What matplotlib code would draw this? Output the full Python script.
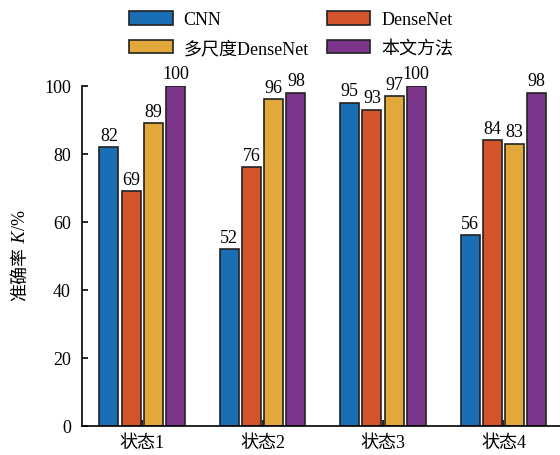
import numpy as np
import matplotlib
matplotlib.use("Agg")
import matplotlib.pyplot as plt

plt.rcParams['font.family'] = ['Liberation Serif', 'Noto Sans CJK SC']
plt.rcParams['font.size'] = 13

states = ['状态1', '状态2', '状态3', '状态4']
methods = ['CNN', 'DenseNet', '多尺度DenseNet', '本文方法']
cnn = [82, 52, 95, 56]
densenet = [69, 76, 93, 84]
ms_densenet = [89, 96, 97, 83]
ours = [100, 98, 100, 98]
colors = ['#1a6fb4', '#d4552b', '#e3a83b', '#7b368c']

fig = plt.figure(figsize=(5.6, 4.56), dpi=100)
ax = fig.add_axes([0.1464, 0.0636, 0.86, 0.746])

x = np.arange(1, len(states) + 1)
width = 0.158
step = 0.184
series = [cnn, densenet, ms_densenet, ours]
handles = []
for i, (vals, name, c) in enumerate(zip(series, methods, colors)):
    pos = x + (i - 1.5) * step
    bars = ax.bar(pos, vals, width, color=c, edgecolor='#222222',
                  linewidth=1.2, label=name, zorder=2)
    handles.append(bars)
    for b, v in zip(bars, vals):
        ax.text(b.get_x() + b.get_width() / 2, v + 1, str(v),
                ha='center', va='bottom', fontsize=13)

ax.set_xlim(0.5, 4.5)
ax.set_ylim(0, 100)
ax.set_xticks(x)
ax.set_xticklabels(states)
ax.set_yticks([0, 20, 40, 60, 80, 100])
ax.tick_params(direction='in', length=4, width=1.2, labelsize=13)
ax.tick_params(axis='x', pad=6)
ax.tick_params(axis='y', pad=8)
for s in ['top', 'right']:
    ax.spines[s].set_visible(False)
for s in ['left', 'bottom']:
    ax.spines[s].set_linewidth(1.2)

# y label: CJK part, italic K, then unit, chained bottom to top
t1 = fig.text(0.036, 0.40, '准确率', rotation=90, ha='center', va='center',
              fontsize=13)
t2 = ax.annotate(' K', xy=(0.5, 1), xycoords=t1, rotation=90,
                 ha='center', va='bottom', fontsize=13, style='italic',
                 annotation_clip=False)
t3 = ax.annotate('/%', xy=(0.5, 1), xycoords=t2, rotation=90,
                 ha='center', va='bottom', fontsize=13,
                 annotation_clip=False)

# legend filled row by row
order = [0, 2, 1, 3]
fig.legend([handles[k] for k in order], [methods[k] for k in order],
           loc='upper center', bbox_to_anchor=(0.52, 1.01), ncol=2,
           frameon=False, handlelength=2.4, handleheight=0.8,
           columnspacing=1.0, handletextpad=0.6, labelspacing=0.65,
           fontsize=13)

fig.savefig('out.png', dpi=100)
